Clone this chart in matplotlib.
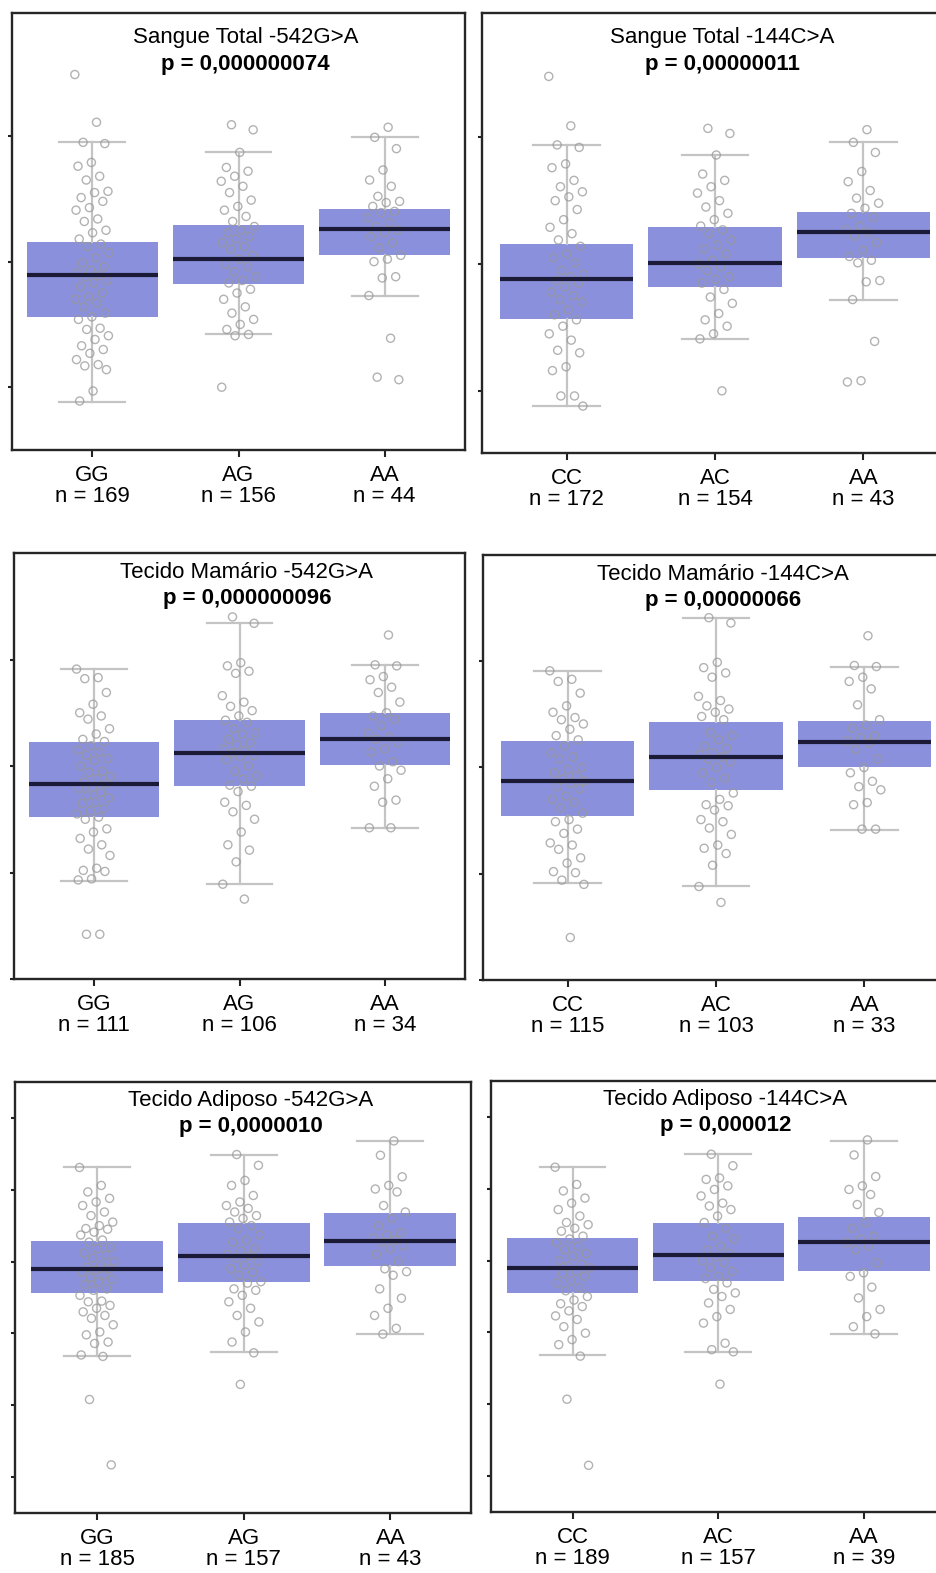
import numpy as np
import matplotlib
matplotlib.use("Agg")
import matplotlib.pyplot as plt

plt.rcParams['font.family'] = ['Liberation Sans', 'DejaVu Sans']

# ---- data ----
titles = ["Sangue Total -542G>A", "Sangue Total -144C>A",
          "Tecido Mamário -542G>A", "Tecido Mamário -144C>A",
          "Tecido Adiposo -542G>A", "Tecido Adiposo -144C>A"]
pvals = ["0,000000074", "0,00000011", "0,000000096", "0,00000066", "0,0000010", "0,000012"]
geno_542 = ["GG", "AG", "AA"]
geno_144 = ["CC", "AC", "AA"]

n_st542 = [169, 156, 44]
n_st144 = [172, 154, 43]
n_tm542 = [111, 106, 34]
n_tm144 = [115, 103, 33]
n_ta542 = [185, 157, 43]
n_ta144 = [189, 157, 39]

# box stats (q1, median, q3, whisker low, whisker high)
st542_q1 = [-0.44, -0.18, 0.05]
st542_med = [-0.11, 0.02, 0.26]
st542_q3 = [0.16, 0.29, 0.42]
st542_lo = [-1.12, -0.58, -0.27]
st542_hi = [0.95, 0.87, 0.99]

st144_q1 = [-0.43, -0.18, 0.05]
st144_med = [-0.12, 0.01, 0.25]
st144_q3 = [0.16, 0.29, 0.41]
st144_lo = [-1.12, -0.59, -0.28]
st144_hi = [0.94, 0.86, 0.96]

tm542_q1 = [-0.48, -0.19, 0.01]
tm542_med = [-0.17, 0.12, 0.25]
tm542_q3 = [0.23, 0.43, 0.50]
tm542_lo = [-1.08, -1.11, -0.58]
tm542_hi = [0.91, 1.34, 0.95]

tm144_q1 = [-0.46, -0.21, 0.00]
tm144_med = [-0.13, 0.10, 0.24]
tm144_q3 = [0.25, 0.43, 0.44]
tm144_lo = [-1.09, -1.12, -0.59]
tm144_hi = [0.91, 1.41, 0.95]

ta542_q1 = [-0.44, -0.28, -0.06]
ta542_med = [-0.11, 0.08, 0.28]
ta542_q3 = [0.29, 0.54, 0.67]
ta542_lo = [-1.32, -1.26, -1.01]
ta542_hi = [1.31, 1.49, 1.68]

ta144_q1 = [-0.45, -0.29, -0.14]
ta144_med = [-0.11, 0.08, 0.26]
ta144_q3 = [0.32, 0.53, 0.61]
ta144_lo = [-1.32, -1.27, -1.02]
ta144_hi = [1.30, 1.48, 1.67]

# individual points (approx.)
st542_gg = [1.49, 1.11, 0.95, 0.94, 0.79, 0.76, 0.68, 0.65, 0.56, 0.55, 0.51, 0.48, 0.43, 0.41, 0.34, 0.32,
            0.25, 0.23, 0.18, 0.14, 0.12, 0.07, 0.03, -0.01, -0.04, -0.07, -0.09, -0.11, -0.12, -0.15, -0.17,
            -0.20, -0.25, -0.28, -0.30, -0.33, -0.36, -0.41, -0.44, -0.46, -0.53, -0.54, -0.59, -0.62, -0.67,
            -0.70, -0.73, -0.78, -0.82, -0.83, -0.86, -1.03, -1.11]
st542_ag = [1.09, 1.05, 0.87, 0.75, 0.72, 0.68, 0.64, 0.60, 0.55, 0.49, 0.44, 0.41, 0.36, 0.32, 0.28, 0.25,
            0.23, 0.20, 0.18, 0.15, 0.12, 0.10, 0.05, 0.02, -0.02, -0.04, -0.08, -0.12, -0.15, -0.17, -0.22,
            -0.25, -0.30, -0.36, -0.41, -0.46, -0.50, -0.54, -0.58, -0.59, -1.00]
st542_aa = [1.07, 0.99, 0.90, 0.73, 0.65, 0.60, 0.52, 0.48, 0.47, 0.44, 0.40, 0.39, 0.35, 0.31, 0.28, 0.25,
            0.23, 0.20, 0.15, 0.11, 0.05, 0.02, 0.00, -0.12, -0.13, -0.27, -0.61, -0.92, -0.94]

st144_cc = [1.48, 1.09, 0.94, 0.92, 0.79, 0.76, 0.66, 0.61, 0.57, 0.53, 0.50, 0.43, 0.35, 0.29, 0.24, 0.19,
            0.14, 0.08, 0.05, 0.01, -0.05, -0.08, -0.10, -0.13, -0.15, -0.18, -0.22, -0.25, -0.28, -0.30,
            -0.36, -0.40, -0.44, -0.49, -0.55, -0.60, -0.68, -0.70, -0.81, -0.84, -1.04, -1.04, -1.12]
st144_ac = [1.07, 1.03, 0.86, 0.71, 0.66, 0.61, 0.56, 0.50, 0.45, 0.40, 0.35, 0.30, 0.27, 0.24, 0.19, 0.15,
            0.12, 0.08, 0.03, 0.00, -0.02, -0.05, -0.10, -0.12, -0.15, -0.20, -0.26, -0.31, -0.39, -0.44,
            -0.49, -0.55, -0.59, -1.00]
st144_aa = [1.06, 0.96, 0.88, 0.73, 0.65, 0.58, 0.52, 0.48, 0.44, 0.40, 0.37, 0.30, 0.27, 0.25, 0.22, 0.17,
            0.11, 0.06, 0.03, 0.01, -0.13, -0.14, -0.28, -0.61, -0.92, -0.93]

tm542_gg = [0.91, 0.83, 0.82, 0.69, 0.58, 0.50, 0.47, 0.44, 0.35, 0.30, 0.25, 0.23, 0.19, 0.15, 0.13, 0.10,
            0.07, 0.05, 0.00, -0.05, -0.06, -0.10, -0.12, -0.15, -0.17, -0.20, -0.21, -0.25, -0.28, -0.30,
            -0.34, -0.35, -0.40, -0.42, -0.45, -0.48, -0.50, -0.59, -0.62, -0.68, -0.74, -0.78, -0.84, -0.96,
            -0.98, -0.99, -1.06, -1.07, -1.58, -1.58]
tm542_ag = [1.40, 1.34, 0.97, 0.94, 0.89, 0.87, 0.66, 0.60, 0.56, 0.52, 0.47, 0.43, 0.41, 0.35, 0.31, 0.30,
            0.25, 0.22, 0.20, 0.16, 0.14, 0.12, 0.10, 0.09, 0.06, 0.00, -0.05, -0.09, -0.12, -0.18, -0.19,
            -0.24, -0.34, -0.37, -0.43, -0.50, -0.62, -0.74, -0.79, -0.90, -1.11, -1.25]
tm542_aa = [1.23, 0.95, 0.94, 0.84, 0.81, 0.74, 0.69, 0.60, 0.50, 0.47, 0.44, 0.38, 0.31, 0.27, 0.25, 0.22,
            0.16, 0.13, 0.04, 0.00, -0.04, -0.12, -0.19, -0.32, -0.34, -0.58, -0.58]

tm144_cc = [0.91, 0.83, 0.81, 0.70, 0.58, 0.52, 0.47, 0.45, 0.41, 0.36, 0.30, 0.26, 0.20, 0.14, 0.10, 0.08,
            0.00, -0.02, -0.05, -0.08, -0.11, -0.13, -0.15, -0.18, -0.20, -0.27, -0.30, -0.33, -0.38, -0.43,
            -0.49, -0.51, -0.58, -0.62, -0.71, -0.73, -0.77, -0.85, -0.90, -0.98, -0.99, -1.06, -1.10, -1.60]
tm144_ac = [1.41, 1.36, 0.99, 0.94, 0.89, 0.85, 0.67, 0.63, 0.58, 0.55, 0.52, 0.48, 0.45, 0.33, 0.30, 0.26,
            0.20, 0.18, 0.14, 0.12, 0.10, 0.08, 0.05, 0.00, -0.05, -0.10, -0.14, -0.24, -0.30, -0.35, -0.36,
            -0.40, -0.49, -0.51, -0.57, -0.63, -0.73, -0.76, -0.81, -0.92, -1.12, -1.27]
tm144_aa = [1.24, 0.96, 0.95, 0.85, 0.81, 0.74, 0.59, 0.45, 0.40, 0.37, 0.30, 0.28, 0.25, 0.23, 0.17, 0.08,
            0.00, -0.05, -0.13, -0.18, -0.21, -0.33, -0.35, -0.58, -0.58]

ta542_gg = [1.31, 1.06, 0.97, 0.88, 0.83, 0.78, 0.69, 0.64, 0.55, 0.50, 0.46, 0.45, 0.41, 0.37, 0.30, 0.27,
            0.20, 0.18, 0.12, 0.09, 0.05, 0.00, -0.05, -0.08, -0.10, -0.12, -0.15, -0.19, -0.22, -0.25,
            -0.28, -0.32, -0.38, -0.40, -0.47, -0.55, -0.56, -0.61, -0.65, -0.70, -0.75, -0.79, -0.88, -0.98,
            -1.02, -1.12, -1.14, -1.30, -1.32, -1.92, -2.83]
ta542_ag = [1.49, 1.34, 1.13, 1.06, 0.92, 0.83, 0.78, 0.74, 0.69, 0.64, 0.60, 0.55, 0.50, 0.46, 0.37, 0.30,
            0.27, 0.18, 0.15, 0.10, 0.08, 0.05, 0.00, -0.05, -0.10, -0.15, -0.19, -0.28, -0.30, -0.38,
            -0.40, -0.47, -0.56, -0.65, -0.75, -0.84, -0.98, -1.12, -1.27, -1.71]
ta542_aa = [1.68, 1.48, 1.18, 1.06, 1.01, 0.97, 0.78, 0.69, 0.60, 0.50, 0.40, 0.37, 0.33, 0.30, 0.27, 0.22,
            0.18, 0.10, 0.00, -0.10, -0.14, -0.19, -0.38, -0.51, -0.65, -0.75, -0.93, -1.01]

ta144_cc = [1.30, 1.06, 0.97, 0.87, 0.80, 0.71, 0.62, 0.53, 0.50, 0.45, 0.41, 0.34, 0.30, 0.25, 0.20, 0.15,
            0.10, 0.06, 0.00, -0.05, -0.08, -0.10, -0.15, -0.18, -0.22, -0.28, -0.31, -0.38, -0.42, -0.50,
            -0.55, -0.60, -0.64, -0.70, -0.77, -0.82, -0.92, -1.01, -1.10, -1.17, -1.33, -1.93, -2.85]
ta144_ac = [1.48, 1.32, 1.15, 1.13, 1.04, 0.99, 0.90, 0.80, 0.76, 0.71, 0.62, 0.53, 0.45, 0.34, 0.30, 0.20,
            0.15, 0.10, 0.05, 0.00, -0.03, -0.10, -0.15, -0.22, -0.25, -0.31, -0.40, -0.45, -0.50, -0.59,
            -0.68, -0.78, -0.87, -1.15, -1.24, -1.27, -1.72]
ta144_aa = [1.68, 1.47, 1.17, 1.04, 0.99, 0.92, 0.78, 0.67, 0.53, 0.45, 0.34, 0.30, 0.25, 0.20, 0.15, -0.03,
            -0.17, -0.22, -0.37, -0.52, -0.68, -0.78, -0.92, -1.02]

# ---- layout (pixels in a 937x1573 canvas) ----
W, H = 937, 1573
BOX_C = '#8a90dc'
MED_C = '#1b1b38'
WHISK_C = '#c4c4c4'
PT_C = '#999999'

panels = [
    dict(title=titles[0], p=pvals[0], geno=geno_542, n=n_st542,
         stats=(st542_q1, st542_med, st542_q3, st542_lo, st542_hi), pts=[st542_gg, st542_ag, st542_aa],
         rect=(12, 13, 453, 437), xlim=(-0.55, 2.55), ylim=(-1.5, 1.98), yt=[-1, 0, 1], toff=(18, 37)),
    dict(title=titles[1], p=pvals[1], geno=geno_144, n=n_st144,
         stats=(st144_q1, st144_med, st144_q3, st144_lo, st144_hi), pts=[st144_cc, st144_ac, st144_aa],
         rect=(482, 13, 466, 440), xlim=(-0.57, 2.57), ylim=(-1.49, 1.98), yt=[-1, 0, 1], toff=(18, 37)),
    dict(title=titles[2], p=pvals[2], geno=geno_542, n=n_tm542,
         stats=(tm542_q1, tm542_med, tm542_q3, tm542_lo, tm542_hi), pts=[tm542_gg, tm542_ag, tm542_aa],
         rect=(14, 553, 451, 426), xlim=(-0.55, 2.55), ylim=(-2.0, 2.0), yt=[-2, -1, 0, 1], toff=(14, 33)),
    dict(title=titles[3], p=pvals[3], geno=geno_144, n=n_tm144,
         stats=(tm144_q1, tm144_med, tm144_q3, tm144_lo, tm144_hi), pts=[tm144_cc, tm144_ac, tm144_aa],
         rect=(483, 555, 466, 425), xlim=(-0.57, 2.57), ylim=(-2.0, 2.0), yt=[-2, -1, 0, 1], toff=(14, 33)),
    dict(title=titles[4], p=pvals[4], geno=geno_542, n=n_ta542,
         stats=(ta542_q1, ta542_med, ta542_q3, ta542_lo, ta542_hi), pts=[ta542_gg, ta542_ag, ta542_aa],
         rect=(15, 1082, 456, 431), xlim=(-0.56, 2.55), ylim=(-3.5, 2.5), yt=[-3, -2, -1, 0, 1, 2], toff=(13, 32)),
    dict(title=titles[5], p=pvals[5], geno=geno_144, n=n_ta144,
         stats=(ta144_q1, ta144_med, ta144_q3, ta144_lo, ta144_hi), pts=[ta144_cc, ta144_ac, ta144_aa],
         rect=(491, 1081, 456, 431), xlim=(-0.56, 2.57), ylim=(-3.5, 2.5), yt=[-3, -2, -1, 0, 1, 2], toff=(13, 32)),
]

fig = plt.figure(figsize=(W / 100, H / 100), dpi=100)

for pn in panels:
    x0, y0, w, h = pn['rect']
    ax = fig.add_axes([x0 / W, 1 - (y0 + h) / H, w / W, h / H])
    q1, med, q3, lo, hi = pn['stats']
    bstats = []
    for i in range(3):
        bstats.append(dict(med=med[i], q1=q1[i], q3=q3[i], whislo=lo[i], whishi=hi[i], fliers=[]))
    bp = ax.bxp(bstats, positions=[0, 1, 2], widths=0.9, capwidths=0.45, patch_artist=True,
                showfliers=False,
                boxprops=dict(facecolor=BOX_C, edgecolor='none'),
                whiskerprops=dict(color=WHISK_C, lw=1.6),
                capprops=dict(color=WHISK_C, lw=1.6),
                medianprops=dict(color=MED_C, lw=3.0, solid_capstyle='butt'))
    for m in bp['medians']:
        m.set_zorder(5)

    # jittered points
    for i, vals in enumerate(pn['pts']):
        k = len(vals)
        off = ((np.arange(k) * 0.618034 + 0.3 * i) % 1 - 0.5) * 0.24
        ax.scatter(i + off, vals, s=34, facecolors='none', edgecolors=PT_C,
                   linewidths=1.0, alpha=0.75, zorder=4)

    ax.set_xlim(*pn['xlim'])
    ax.set_ylim(*pn['ylim'])
    ax.set_yticks(pn['yt'])
    ax.set_yticklabels([])
    labels = [f"{g}\nn = {n}" for g, n in zip(pn['geno'], pn['n'])]
    ax.set_xticks([0, 1, 2], labels=labels)
    for lbl in ax.get_xticklabels():
        lbl.set_linespacing(1.0)
    ax.tick_params(axis='x', length=5, width=1.5, pad=6, labelsize=16, color='#222222')
    ax.tick_params(axis='y', length=3, width=1.5, color='#222222')
    for sp in ax.spines.values():
        sp.set_linewidth(1.7)
        sp.set_color('#262626')

    t1, t2 = pn['toff']
    ax.annotate(pn['title'], xy=(1.05, 1), xycoords=('data', 'axes fraction'),
                xytext=(0, -t1), textcoords='offset points', ha='center', va='center', fontsize=16)
    ax.annotate(f"p = {pn['p']}", xy=(1.05, 1), xycoords=('data', 'axes fraction'),
                xytext=(0, -t2), textcoords='offset points', ha='center', va='center',
                fontsize=16, fontweight='bold')

fig.savefig('out.png', dpi=100)
